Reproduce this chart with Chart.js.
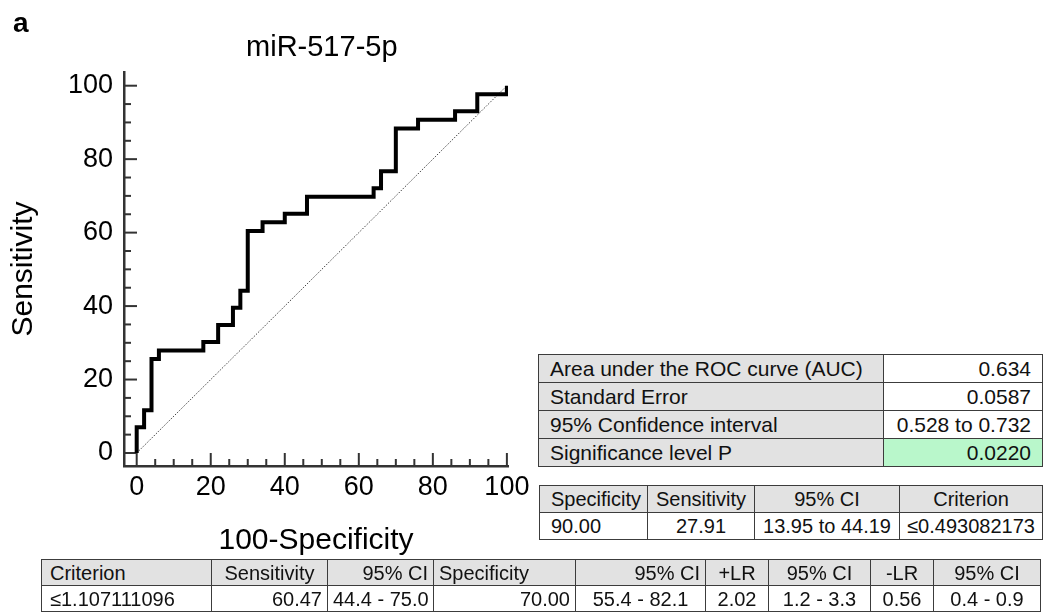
<!DOCTYPE html>
<html>
<head>
<meta charset="utf-8">
<script src="https://cdn.jsdelivr.net/npm/chart.js@4.4.0/dist/chart.umd.min.js"></script>
<style>
  body { margin: 0; background: #fff; font-family: "Liberation Sans", Arial, sans-serif; }
  #wrap { position: relative; width: 1043px; height: 613px; overflow: hidden; }
  #roc { position: absolute; left: 0; top: 0; }
  #panel { position: absolute; left: 13px; top: 9px; font-size: 28px; line-height: 28px; font-weight: bold; }
  table { position: absolute; border-collapse: collapse; table-layout: fixed; color: #111; }
  td { border: 1.5px solid #3c3c3c; white-space: nowrap; overflow: hidden; line-height: 1; }
  .grey { background: #e2e2e2; }
  .green { background: #b9f7cb; }
  #t1 { left: 538px; top: 354px; width: 504px; font-size: 21px; }
  #t1 td { height: 27px; padding: 0 11px; }
  #t2 { left: 539px; top: 485px; width: 503px; font-size: 20px; }
  #t2 td { height: 26px; padding: 0 6px; }
  #t2 td:first-child { padding-left: 11px; }
  #t3 { left: 41px; top: 559px; width: 1000px; font-size: 20px; }
  #t3 td { height: 25px; padding: 0 5px; }
  #t3 td:first-child { padding-left: 8px; }
</style>
</head>
<body>
<div id="wrap">
  <canvas id="roc" width="535" height="560"></canvas>
  <div id="panel">a</div>
  <table id="t1"></table>
  <table id="t2"></table>
  <table id="t3"></table>
</div>
<script>
// ROC curve corners: 100-Specificity (x) and Sensitivity (y)
const fpr = [0, 0, 2, 4, 6, 18, 22, 26, 28, 30, 34, 40, 46, 64, 66, 70, 76, 86, 92, 100];
const sens = [0, 6.98, 11.63, 25.58, 27.91, 30.23, 34.88, 39.53, 44.19, 60.47, 62.79, 65.12, 69.77, 72.09, 76.74, 88.37, 90.70, 93.02, 97.67, 100];
const refX = [0, 100];
const refY = [0, 100];
const tickValues = [0, 20, 40, 60, 80, 100];
const chartTitle = 'miR-517-5p';

// tables
const aucLabels = ['Area under the ROC curve (AUC)', 'Standard Error', '95% Confidence interval', 'Significance level P'];
const aucValues = ['0.634', '0.0587', '0.528 to 0.732', '0.0220'];
const cutHeader = ['Specificity', 'Sensitivity', '95% CI', 'Criterion'];
const cutRow = ['90.00', '27.91', '13.95 to 44.19', '\u22640.493082173'];
const critHeader = ['Criterion', 'Sensitivity', '95% CI', 'Specificity', '95% CI', '+LR', '95% CI', '-LR', '95% CI'];
const critRow = ['\u22641.107111096', '60.47', '44.4 - 75.0', '70.00', '55.4 - 82.1', '2.02', '1.2 - 3.3', '0.56', '0.4 - 0.9'];

const FONT = '"Liberation Sans", Arial, sans-serif';

function fillTable(id, widths, rows) {
  const t = document.getElementById(id);
  const cg = document.createElement('colgroup');
  widths.forEach(w => { const c = document.createElement('col'); c.style.width = w + 'px'; cg.appendChild(c); });
  t.appendChild(cg);
  rows.forEach(r => {
    const tr = document.createElement('tr');
    r.cells.forEach((txt, i) => {
      const td = document.createElement('td');
      td.textContent = txt;
      td.style.textAlign = r.align[i];
      const cls = r.cls ? r.cls[i] : '';
      if (cls) td.className = cls;
      tr.appendChild(td);
    });
    t.appendChild(tr);
  });
}

fillTable('t1', [345, 159], aucLabels.map((l, i) => ({
  cells: [l, aucValues[i]],
  align: ['left', 'right'],
  cls: ['grey', i === 3 ? 'green' : '']
})));

fillTable('t2', [108, 107, 145, 143], [
  { cells: cutHeader, align: ['center', 'center', 'center', 'center'], cls: ['grey', 'grey', 'grey', 'grey'] },
  { cells: cutRow, align: ['left', 'center', 'center', 'center'] }
]);

fillTable('t3', [170, 116, 106, 142, 130, 63, 102, 63, 107], [
  { cells: critHeader, align: ['left', 'center', 'right', 'left', 'right', 'center', 'center', 'center', 'center'], cls: critHeader.map(() => 'grey') },
  { cells: critRow, align: ['left', 'right', 'left', 'right', 'center', 'center', 'center', 'center', 'center'] }
]);

// inward tick marks, minor every 5, major every 20
const innerTicks = {
  id: 'innerTicks',
  beforeDatasetsDraw(chart) {
    const { ctx, chartArea, scales: { x, y } } = chart;
    ctx.save();
    ctx.strokeStyle = '#333';
    ctx.lineWidth = 2;
    for (let v = 0; v <= 100; v += 5) {
      const len = v % 20 === 0 ? 13 : 7;
      const px = x.getPixelForValue(v);
      ctx.beginPath();
      ctx.moveTo(px, chartArea.bottom);
      ctx.lineTo(px, chartArea.bottom - len);
      ctx.stroke();
      const py = y.getPixelForValue(v);
      ctx.beginPath();
      ctx.moveTo(chartArea.left, py);
      ctx.lineTo(chartArea.left + len, py);
      ctx.stroke();
    }
    ctx.restore();
  }
};

// title centred over the data range rather than the canvas
const plotTitle = {
  id: 'plotTitle',
  afterDraw(chart) {
    const { ctx, scales: { x } } = chart;
    ctx.save();
    ctx.fillStyle = '#000';
    ctx.font = '29px ' + FONT;
    ctx.textAlign = 'center';
    ctx.textBaseline = 'alphabetic';
    ctx.fillText(chartTitle, x.getPixelForValue(50), 56);
    ctx.restore();
  }
};

const fixedTicks = s => { s.ticks = tickValues.map(v => ({ value: v })); };

new Chart(document.getElementById('roc'), {
  type: 'line',
  data: {
    datasets: [{
      data: fpr.map((v, i) => ({ x: v, y: sens[i] })),
      stepped: 'before',
      borderColor: '#000',
      borderWidth: 4,
      borderJoinStyle: 'miter',
      pointRadius: 0,
      fill: false
    }, {
      data: refX.map((v, i) => ({ x: v, y: refY[i] })),
      borderColor: '#444',
      borderWidth: 1,
      borderDash: [1.5, 1.5],
      pointRadius: 0,
      fill: false
    }]
  },
  options: {
    responsive: false,
    animation: false,
    layout: { padding: { left: 0, right: 27, top: 72, bottom: 0 } },
    plugins: {
      legend: { display: false },
      tooltip: { enabled: false },
      title: { display: false }
    },
    scales: {
      x: {
        type: 'linear',
        min: -3.43,
        max: 100.3,
        afterBuildTicks: fixedTicks,
        afterFit: s => { s.height = 94; },
        grid: { drawOnChartArea: false, drawTicks: false },
        border: { display: true, color: '#333', width: 2.5 },
        ticks: { color: '#000', font: { family: FONT, size: 27 }, padding: 5, maxRotation: 0, autoSkip: false },
        title: { display: true, text: '100-Specificity', color: '#000', font: { family: FONT, size: 30 }, padding: { top: 0, bottom: 1 } }
      },
      y: {
        type: 'linear',
        min: -3.54,
        max: 103.73,
        afterBuildTicks: fixedTicks,
        afterFit: s => { s.width = 124; },
        grid: { drawOnChartArea: false, drawTicks: false },
        border: { display: true, color: '#333', width: 2.5 },
        ticks: { color: '#000', font: { family: FONT, size: 27 }, padding: 11, autoSkip: false },
        title: { display: true, text: 'Sensitivity', color: '#000', font: { family: FONT, size: 30 }, padding: { top: 6, bottom: 0 } }
      }
    }
  },
  plugins: [innerTicks, plotTitle]
});
</script>
</body>
</html>
